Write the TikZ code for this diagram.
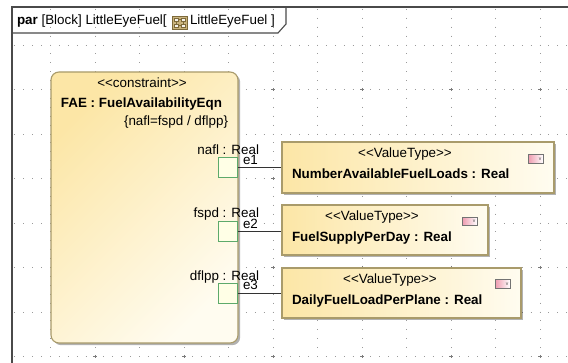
\documentclass[tikz,border=0pt]{standalone}
\usepackage{fontspec}
\setmainfont{Liberation Sans}
\usetikzlibrary{shadows,calc}
\definecolor{gridc}{HTML}{9A9A9A}
\definecolor{framec}{HTML}{4A4A4A}
\definecolor{boxborder}{HTML}{A99B6B}
\definecolor{yel1}{HTML}{FCE6A6}
\definecolor{yel2}{HTML}{FFFCF0}
\definecolor{portc}{HTML}{5DAA6B}
\definecolor{portfill}{HTML}{FFFFE6}
\definecolor{pinkc}{HTML}{EE9AAE}
\definecolor{icontan}{HTML}{C9B27A}
\definecolor{iconbrown}{HTML}{7E6A3A}
\newcommand\ltlt{<\kern0pt<}
\newcommand\gtgt{>\kern0pt>}
\tikzset{
 txt/.style={inner sep=0pt, outer sep=0pt},
 shadowed/.style={drop shadow={shadow xshift=2.2pt, shadow yshift=-2.2pt, opacity=0.3, fill=black}},
 constraintbox/.style={draw=boxborder, line width=1.1pt, rounded corners=8pt, top color=yel1, bottom color=yel2, shading angle=45, shadowed, minimum width=187pt, minimum height=271pt, inner sep=0pt},
 valuebox/.style={draw=boxborder, line width=1.1pt, left color=yel1, right color=yel2, shadowed, minimum height=50pt, inner sep=0pt},
 portbox/.style={draw=portc, fill=portfill, line width=1pt, minimum width=19pt, minimum height=19.5pt, inner sep=0pt},
 conn/.style={draw=black!80, line width=0.9pt},
 vicon/.style={draw=black!55, line width=0.6pt, left color=pinkc, right color=white, minimum width=15pt, minimum height=8.5pt, inner sep=0pt},
 gridline/.style={gridc, line width=0.9pt, dash pattern=on 0.9pt off 8pt},
}
\begin{document}
\begin{tikzpicture}[x=1pt,y=-1pt,font=\fontsize{13.4}{16}\selectfont]
\useasboundingbox (0,0) rectangle (568,363);
\fill[white] (0,0) rectangle (568,363);
% grid
\begin{scope}
\clip (12,7) rectangle (568,363);
\foreach \gy in {45,89.5,...,360} \draw[gridline] (5.55,\gy) -- (568,\gy);
\foreach \gx in {6,50.5,...,568} \draw[gridline] (\gx,0.05) -- (\gx,363);
\foreach \mx in {95,184,...,560} \foreach \my in {89.5,178.5,...,360}
  \draw[gridc!80!black, line width=0.7pt] (\mx-1.6,\my) -- (\mx+1.6,\my) (\mx,\my-1.6) -- (\mx,\my+1.6);
\end{scope}
% frame and tab
\draw[framec, line width=1.2pt] (12,363) -- (12,7) -- (568,7);
\draw[framec, line width=1.1pt] (12,33) -- (278,33) -- (286,24) -- (286,7);
\node[txt, anchor=base west] (title1) at (17,25) {\textbf{par} [Block] LittleEyeFuel[};
\node[txt, anchor=base west] (title2) at (190,25) {LittleEyeFuel ]};
% title icon
\draw[iconbrown, fill=icontan, line width=0.6pt] (172,16) rectangle (187,29);
\draw[iconbrown, line width=0.5pt, fill=white!85!icontan]
  (174,18) rectangle (178,21) (181,18) rectangle (185,21)
  (174,24) rectangle (178,27) (181,24) rectangle (185,27);
\draw[iconbrown, line width=0.5pt] (178,19.5) -- (181,19.5) (176,21) -- (176,24) (178,25.5) -- (181,25.5) (183,21) -- (183,24);
% constraint block
\node[constraintbox] (fae) at (144.5,207.5) {};
\node[txt, anchor=base] (faest) at (142,88) {\ltlt constraint\gtgt};
\node[txt, anchor=base] (faename) at (141.5,108) {\textbf{FAE : FuelAvailabilityEqn}};
\node[txt, anchor=base east] (faeeq) at (228,126) {\{nafl=fspd / dflpp\}};
% ports
\node[portbox] (p1) at (227.5,167.5) {};
\node[portbox] (p2) at (227.5,231.5) {};
\node[portbox] (p3) at (227.5,293.5) {};
\node[txt, anchor=base east] (l1) at (259,155) {nafl : Real};
\node[txt, anchor=base east] (l2) at (259,218) {fspd : Real};
\node[txt, anchor=base east] (l3) at (259,281) {dflpp : Real};
% value type boxes
\node[valuebox, minimum width=272pt, minimum height=51pt] (v1) at (418,167.5) {};
\node[valuebox, minimum width=206pt] (v2) at (385,230) {};
\node[valuebox, minimum width=239pt] (v3) at (401.5,293) {};
\node[txt, anchor=base] (s1) at (405,158) {\ltlt ValueType\gtgt};
\node[txt, anchor=base west] (n1) at (292,179) {\textbf{NumberAvailableFuelLoads : Real}};
\node[txt, anchor=base] (s2) at (372,221) {\ltlt ValueType\gtgt};
\node[txt, anchor=base west] (n2) at (292,242) {\textbf{FuelSupplyPerDay : Real}};
\node[txt, anchor=base] (s3) at (390,284) {\ltlt ValueType\gtgt};
\node[txt, anchor=base west] (n3) at (292,305) {\textbf{DailyFuelLoadPerPlane : Real}};
% value icons
\foreach \nm/\ix/\iy in {i1/535.5/159, i2/469.5/221.5, i3/502.5/284}{
  \node[vicon] (\nm) at (\ix,\iy) {};
  \node[txt, anchor=east, font=\fontsize{5}{5}\selectfont, text=black!70] (\nm v) at ($(\nm.east)+(-2,0)$) {v};
}
% connectors
\draw[conn] (p1.east) -- (p1.east -| v1.west);
\draw[conn] (p2.east) -- (p2.east -| v2.west);
\draw[conn] (p3.east) -- (p3.east -| v3.west);
\node[txt, anchor=base west] (e1) at (243,165) {e1};
\node[txt, anchor=base west] (e2) at (243,228.5) {e2};
\node[txt, anchor=base west] (e3) at (243,290) {e3};
\end{tikzpicture}
\end{document}
